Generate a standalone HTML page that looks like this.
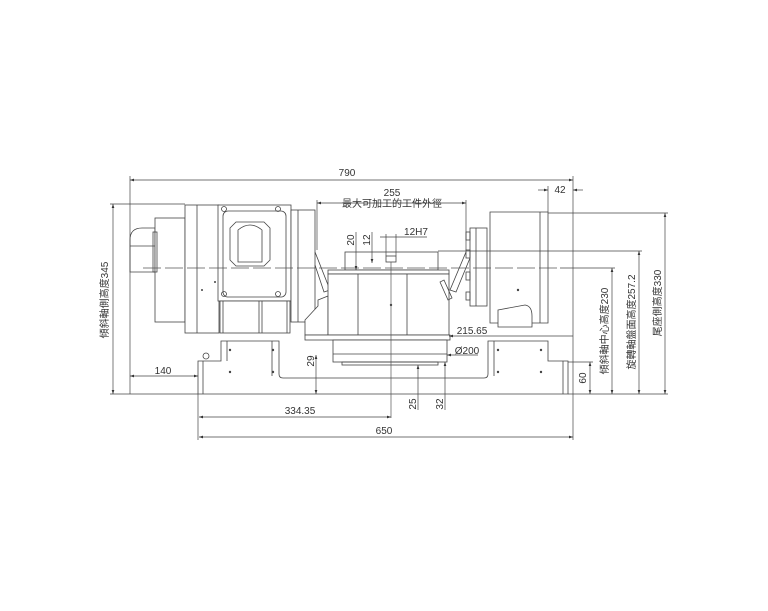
<!DOCTYPE html>
<html><head><meta charset="utf-8"><style>
html,body{margin:0;padding:0;background:#fff;width:768px;height:611px;overflow:hidden}
svg{display:block}
text{font-family:"Liberation Sans","Noto Sans CJK TC",sans-serif;fill:#333;font-size:10px}
</style></head><body>
<svg width="768" height="611" viewBox="0 0 768 611" xmlns="http://www.w3.org/2000/svg">
<defs><marker id="a" markerWidth="6" markerHeight="4" refX="6" refY="2" orient="auto-start-reverse"><path d="M0,0 L6,2 L0,4Z" fill="#333"/></marker></defs>
<g stroke="#444" stroke-width="0.8" fill="none">
<!-- small back motor -->
<path d="M130,272 V240 Q130,228 142,228 H155 V272 Z" fill="#fff"/>
<line x1="130" y1="246" x2="155" y2="246"/>
<rect x="155" y="218" width="30" height="104" fill="#fff"/>
<rect x="153" y="232" width="4" height="40"/>
<!-- main motor body -->
<rect x="185" y="205" width="34" height="128" fill="#fff"/>
<line x1="197" y1="205" x2="197" y2="333"/>
<!-- box -->
<rect x="218" y="205" width="73" height="96" fill="#fff"/>
<rect x="223" y="211" width="63" height="86" rx="5"/>
<path d="M236,222 H264 L270,228 V260 L264,266 H236 L230,260 V228 Z"/>
<path d="M238,230 Q250,220 262,230 V262 H238 Z"/>
<circle cx="224" cy="209" r="2.5"/><circle cx="278" cy="209" r="2.5"/><circle cx="224" cy="294" r="2.5"/><circle cx="278" cy="294" r="2.5"/>
<rect x="220" y="301" width="70" height="32" fill="#fff"/>
<line x1="223" y1="301" x2="223" y2="333"/><line x1="259" y1="301" x2="259" y2="333"/><line x1="262" y1="301" x2="262" y2="333"/><line x1="287" y1="301" x2="287" y2="333"/>
<!-- flange -->
<rect x="291" y="210" width="24" height="112" fill="#fff"/>
<line x1="298" y1="210" x2="298" y2="322"/>
<!-- cradle left arm -->
<path d="M315,252 L330,290 L324,292 L315,265"/>
<path d="M318,300 L328,296 V335 H305 V320 L318,306 Z" fill="#fff"/>
<!-- center table -->
<rect x="345" y="252" width="93" height="18" fill="#fff"/>
<rect x="386" y="256" width="10" height="6"/>
<rect x="328" y="270" width="121" height="4" fill="#fff"/>
<rect x="328" y="274" width="121" height="61" fill="#fff"/>
<line x1="358" y1="274" x2="358" y2="335"/><line x1="407" y1="274" x2="407" y2="335"/>
<rect x="305" y="335" width="145" height="5" fill="#fff"/>
<rect x="333" y="340" width="114" height="22" fill="#fff"/>
<line x1="333" y1="354" x2="447" y2="354"/>
<rect x="342" y="362" width="96" height="3"/>
<!-- right cradle arm -->
<path d="M466,252 L450,290 L456,292 L470,258"/>
<path d="M440,282 L448,300 L452,298 L444,280 Z"/>
<!-- tailstock -->
<rect x="470" y="228" width="17" height="78" fill="#fff"/>
<line x1="476" y1="228" x2="476" y2="306"/>
<rect x="466" y="232" width="4" height="8"/><rect x="466" y="250" width="4" height="8"/><rect x="466" y="272" width="4" height="8"/><rect x="466" y="292" width="4" height="8"/>
<path d="M490,212 H548 V323 H490 Z" fill="#fff"/>
<line x1="540" y1="212" x2="540" y2="323"/>
<path d="M498,310 L525,305 Q532,306 532,316 V327 H498 Z" fill="#fff"/>
<!-- base -->
<path d="M198,394 V361 H221 V341 H279 V374 Q279,378 283,378 H484 Q488,378 488,374 V341 H548 V361 H568 V394 Z" fill="#fff"/>
<line x1="203" y1="361" x2="203" y2="394"/><line x1="563" y1="361" x2="563" y2="394"/>
<line x1="227" y1="341" x2="227" y2="361"/><line x1="272" y1="341" x2="272" y2="376"/><line x1="494" y1="341" x2="494" y2="376"/>
<circle cx="206" cy="356" r="3"/>
</g>
<g fill="#444">
<circle cx="230" cy="350" r="1.2"/><circle cx="273" cy="350" r="1.2"/><circle cx="230" cy="372" r="1.2"/><circle cx="273" cy="372" r="1.2"/>
<circle cx="498" cy="350" r="1.2"/><circle cx="541" cy="350" r="1.2"/><circle cx="498" cy="372" r="1.2"/><circle cx="541" cy="372" r="1.2"/>
<circle cx="391" cy="305" r="1.2"/><circle cx="518" cy="290" r="1.2"/><circle cx="202" cy="290" r="1"/><circle cx="215" cy="282" r="1"/>
</g>
<!-- center lines -->
<g stroke="#555" stroke-width="0.7" fill="none">
<line x1="143" y1="268" x2="560" y2="268" stroke-dasharray="18,4"/>
<line x1="391" y1="262" x2="391" y2="418"/>
</g>
<!-- dimensions -->
<g stroke="#444" stroke-width="0.7" fill="none">
<line x1="130" y1="176" x2="130" y2="394"/><line x1="573" y1="176" x2="573" y2="440"/>
<line x1="130" y1="180" x2="573" y2="180" marker-start="url(#a)" marker-end="url(#a)"/>
<line x1="317" y1="200" x2="317" y2="250"/><line x1="466" y1="200" x2="466" y2="250"/>
<line x1="317" y1="203" x2="466" y2="203" marker-start="url(#a)" marker-end="url(#a)"/>
<line x1="548" y1="186" x2="548" y2="212"/>
<line x1="538" y1="190" x2="548" y2="190" marker-end="url(#a)"/><line x1="583" y1="190" x2="573" y2="190" marker-end="url(#a)"/>
<line x1="110" y1="204" x2="185" y2="204"/><line x1="110" y1="394" x2="198" y2="394"/>
<line x1="113" y1="204" x2="113" y2="394" marker-start="url(#a)" marker-end="url(#a)"/>
<line x1="130" y1="376" x2="198" y2="376" marker-start="url(#a)" marker-end="url(#a)"/>
<line x1="198" y1="394" x2="198" y2="440"/>
<line x1="199" y1="417" x2="391" y2="417" marker-start="url(#a)" marker-end="url(#a)"/>
<line x1="199" y1="437" x2="573" y2="437" marker-start="url(#a)" marker-end="url(#a)"/>
<line x1="548" y1="213" x2="668" y2="213"/><line x1="438" y1="251" x2="642" y2="251"/><line x1="560" y1="268" x2="615" y2="268"/>
<line x1="568" y1="394" x2="668" y2="394"/><line x1="568" y1="362" x2="593" y2="362"/>
<line x1="612" y1="268" x2="612" y2="394" marker-start="url(#a)" marker-end="url(#a)"/>
<line x1="639" y1="251" x2="639" y2="394" marker-start="url(#a)" marker-end="url(#a)"/>
<line x1="665" y1="213" x2="665" y2="394" marker-start="url(#a)" marker-end="url(#a)"/>
<line x1="590" y1="362" x2="590" y2="394" marker-start="url(#a)" marker-end="url(#a)"/>
<line x1="449" y1="336" x2="573" y2="336" marker-start="url(#a)"/>
<line x1="447" y1="355" x2="478" y2="355" marker-start="url(#a)"/>
<line x1="316" y1="355" x2="316" y2="394" marker-start="url(#a)" marker-end="url(#a)"/>
<line x1="418" y1="365" x2="418" y2="410" marker-start="url(#a)"/>
<line x1="445" y1="362" x2="445" y2="410" marker-start="url(#a)"/>
<line x1="356" y1="232" x2="356" y2="270" marker-end="url(#a)"/>
<line x1="372" y1="232" x2="372" y2="263" marker-end="url(#a)"/>
<line x1="380" y1="237" x2="427" y2="237"/><line x1="386" y1="234" x2="386" y2="256"/><line x1="396" y1="234" x2="396" y2="256"/>
</g>
<g>
<text x="347" y="176" text-anchor="middle">790</text>
<text x="392" y="196" text-anchor="middle">255</text>
<text x="392" y="207" text-anchor="middle" font-size="9">最大可加工的工件外徑</text>
<text x="560" y="193" text-anchor="middle">42</text>
<text x="416" y="235" text-anchor="middle">12H7</text>
<text x="163" y="374" text-anchor="middle">140</text>
<text x="300" y="414" text-anchor="middle">334.35</text>
<text x="384" y="434" text-anchor="middle">650</text>
<text x="472" y="334" text-anchor="middle">215.65</text>
<text x="467" y="354" text-anchor="middle">Ø200</text>
<text transform="translate(108,300) rotate(-90)" text-anchor="middle" font-size="9.5">傾斜軸側高度345</text>
<text transform="translate(608,331) rotate(-90)" text-anchor="middle" font-size="9.5">傾斜軸中心高度230</text>
<text transform="translate(635,322) rotate(-90)" text-anchor="middle" font-size="9.5">旋轉軸盤面高度257.2</text>
<text transform="translate(661,303) rotate(-90)" text-anchor="middle" font-size="9.5">尾座側高度330</text>
<text transform="translate(586,378) rotate(-90)" text-anchor="middle">60</text>
<text transform="translate(314,361) rotate(-90)" text-anchor="middle">29</text>
<text transform="translate(416,404) rotate(-90)" text-anchor="middle">25</text>
<text transform="translate(443,404) rotate(-90)" text-anchor="middle">32</text>
<text transform="translate(354,240) rotate(-90)" text-anchor="middle">20</text>
<text transform="translate(370,240) rotate(-90)" text-anchor="middle">12</text>
</g>
</svg>
</body></html>
